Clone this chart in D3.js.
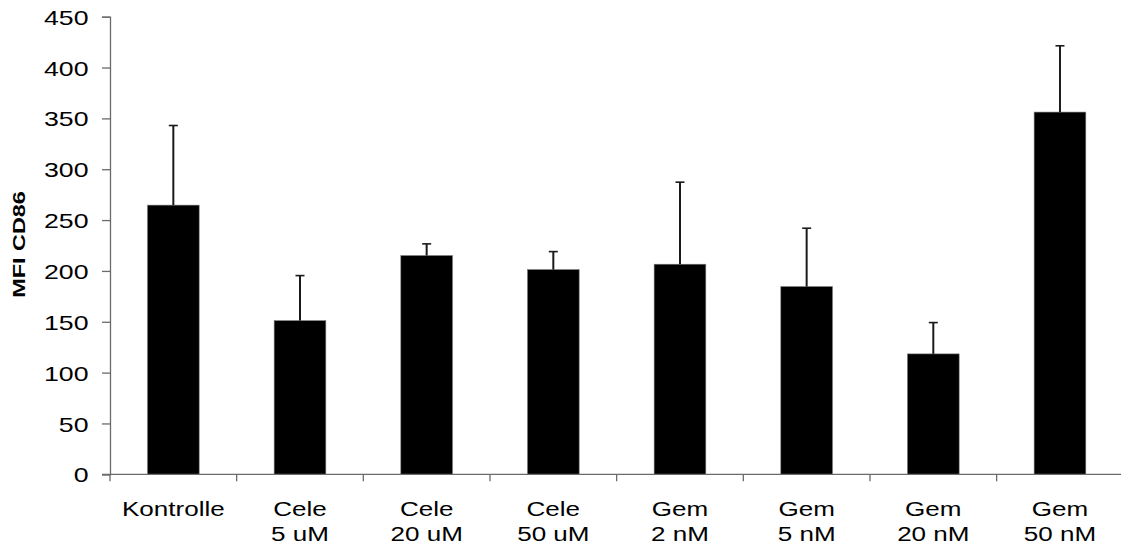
<!DOCTYPE html>
<html>
<head>
<meta charset="utf-8">
<script src="https://cdn.jsdelivr.net/npm/d3@7"></script>
<style>
  body { margin: 0; background: #fff; }
  text { font-family: "Liberation Sans", Arial, sans-serif; fill: #000; }
</style>
</head>
<body>
<div id="chart"></div>
<script>
// data
const groups = ['Kontrolle', 'Cele', 'Cele', 'Cele', 'Gem', 'Gem', 'Gem', 'Gem'];
const doses = ['', '5 uM', '20 uM', '50 uM', '2 nM', '5 nM', '20 nM', '50 nM'];
const means = [264.7, 151.1, 215.1, 201.3, 206.6, 184.6, 118.4, 356.2];
const errors = [78.3, 44.3, 11.5, 17.7, 80.7, 57.4, 30.8, 65.2];
const yTicks = [0, 50, 100, 150, 200, 250, 300, 350, 400, 450];

const w = 1121, h = 546;
const plotLeft = 110, plotRight = 1123.3, plotTop = 16.7, plotBottom = 474.3;
const sx = 1.27; // glyphs in the picture are drawn wide

const ids = d3.range(means.length);

const svg = d3.select('#chart').append('svg')
  .attr('width', w)
  .attr('height', h);

const x = d3.scaleBand()
  .domain(ids)
  .range([plotLeft, plotRight])
  .paddingInner(0.592)
  .paddingOuter(0.296);

const y = d3.scaleLinear()
  .domain([0, 450])
  .range([plotBottom, plotTop]);

// bars
svg.append('g').selectAll('rect')
  .data(ids)
  .enter()
  .append('rect')
  .attr('x', (i) => x(i))
  .attr('y', (i) => y(means[i]))
  .attr('width', x.bandwidth())
  .attr('height', (i) => y(0) - y(means[i]))
  .attr('fill', '#000')
  .attr('stroke', '#777')
  .attr('stroke-width', 0.6);

// error bars (upper only)
const err = svg.append('g').attr('stroke', '#1a1a1a');
err.selectAll('line.stem')
  .data(ids)
  .enter()
  .append('line')
  .attr('class', 'stem')
  .attr('x1', (i) => x(i) + x.bandwidth() / 2)
  .attr('x2', (i) => x(i) + x.bandwidth() / 2)
  .attr('y1', (i) => y(means[i]))
  .attr('y2', (i) => y(means[i] + errors[i]))
  .attr('stroke-width', 2);
err.selectAll('line.cap')
  .data(ids)
  .enter()
  .append('line')
  .attr('class', 'cap')
  .attr('x1', (i) => x(i) + x.bandwidth() / 2 - 4.5)
  .attr('x2', (i) => x(i) + x.bandwidth() / 2 + 4.5)
  .attr('y1', (i) => y(means[i] + errors[i]))
  .attr('y2', (i) => y(means[i] + errors[i]))
  .attr('stroke-width', 1.6);

// y axis
const yAxis = svg.append('g')
  .attr('transform', `translate(${plotLeft},0)`)
  .call(d3.axisLeft(y).tickValues(yTicks).tickSize(8).tickPadding(0).tickFormat(d3.format('d')));
yAxis.select('.domain').attr('stroke', '#6b6b6b').attr('stroke-width', 1.3);
yAxis.selectAll('.tick line').attr('stroke', '#6b6b6b').attr('stroke-width', 1.3);
yAxis.selectAll('.tick text')
  .attr('x', -21.5 / sx)
  .attr('dy', '0.36em')
  .attr('font-size', 21)
  .attr('font-family', '"Liberation Sans", Arial, sans-serif')
  .attr('fill', '#000')
  .attr('transform', `scale(${sx},1)`);

// x axis: line, boundary ticks, two-line labels
const xAxis = svg.append('g').attr('stroke', '#6b6b6b').attr('stroke-width', 1.3);
xAxis.append('line')
  .attr('x1', plotLeft - 8).attr('x2', plotRight)
  .attr('y1', y(0)).attr('y2', y(0));
xAxis.selectAll('line.tick')
  .data(d3.range(means.length + 1))
  .enter()
  .append('line')
  .attr('class', 'tick')
  .attr('x1', (i) => plotLeft + i * x.step())
  .attr('x2', (i) => plotLeft + i * x.step())
  .attr('y1', y(0))
  .attr('y2', y(0) + 7);

const labels = svg.append('g').selectAll('text')
  .data(ids)
  .enter()
  .append('text')
  .attr('text-anchor', 'middle')
  .attr('font-size', 20.5)
  .attr('transform', (i) => `translate(${x(i) + x.bandwidth() / 2},516) scale(${sx},1)`);
labels.append('tspan').attr('x', 0).attr('y', 0).text((i) => groups[i]);
labels.append('tspan').attr('x', 0).attr('y', 25).text((i) => doses[i]);

// y title
svg.append('text')
  .attr('text-anchor', 'middle')
  .attr('font-size', 16.5)
  .attr('font-weight', 'bold')
  .attr('transform', 'translate(25,244.5) rotate(-90) scale(1.42,1)')
  .text('MFI CD86');
</script>
</body>
</html>
